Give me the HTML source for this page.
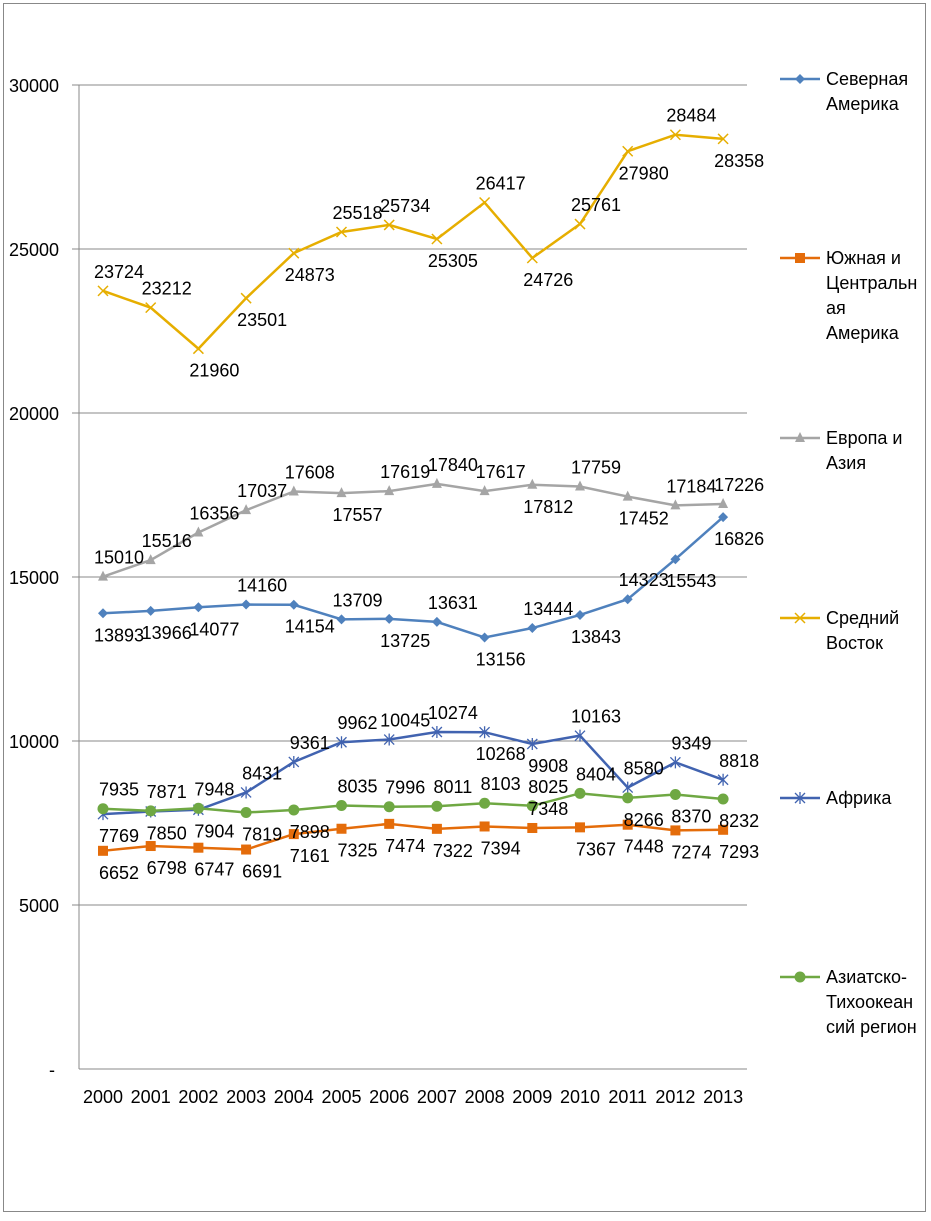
<!DOCTYPE html>
<html><head><meta charset="utf-8"><style>
body{margin:0;background:#fff}
svg text{font-family:"Liberation Sans",sans-serif;fill:#000}
</style></head><body>
<svg id="c" width="931" height="1216" xmlns="http://www.w3.org/2000/svg">
<rect x="3.5" y="3.5" width="922" height="1208" fill="#fff" stroke="#888"/>
<g id="grid"></g><g id="lines"></g><g id="labels"></g><g id="legend"></g>
</svg>
<script>
const years=["2000","2001","2002","2003","2004","2005","2006","2007","2008","2009","2010","2011","2012","2013"];
const yTicks=[0,5000,10000,15000,20000,25000,30000];
const yTickLabels=["-","5000","10000","15000","20000","25000","30000"];
const northAmerica=[13893,13966,14077,14160,14154,13709,13725,13631,13156,13444,13843,14323,15543,16826];
const southAmerica=[6652,6798,6747,6691,7161,7325,7474,7322,7394,7348,7367,7448,7274,7293];
const europeAsia=[15010,15516,16356,17037,17608,17557,17619,17840,17617,17812,17759,17452,17184,17226];
const middleEast=[23724,23212,21960,23501,24873,25518,25734,25305,26417,24726,25761,27980,28484,28358];
const africa=[7769,7850,7904,8431,9361,9962,10045,10274,10268,9908,10163,8580,9349,8818];
const asiaPacific=[7935,7871,7948,7819,7898,8035,7996,8011,8103,8025,8404,8266,8370,8232];
const seriesNames=["Северная Америка","Южная и Центральная Америка","Европа и Азия","Средний Восток","Африка","Азиатско-Тихоокеанский регион"];
const NS="http://www.w3.org/2000/svg";
const X=i=>103+i*47.7, Y=v=>1069-v*164/5000;
function mk(t,a,p){const e=document.createElementNS(NS,t);for(const k in a)e.setAttribute(k,a[k]);p.appendChild(e);return e;}
const grid=document.getElementById('grid');
yTicks.forEach((v,i)=>{
 if(v>0){const l=mk('line',{x1:72,x2:747,y1:Y(v),y2:Y(v),stroke:'#888','stroke-width':1},grid);
 
 }
 const t=mk('text',{x:v>0?59:55,y:Y(v)+7,'font-size':18,'text-anchor':'end'},grid);t.textContent=yTickLabels[i];
 
 
});
const ax=mk('line',{x1:79,x2:79,y1:85,y2:1069,stroke:'#888'},grid);


const xa=mk('line',{x1:79,x2:747,y1:1069,y2:1069,stroke:'#888'},grid);


years.forEach((y,i)=>{const t=mk('text',{x:X(i),y:1103,'font-size':18,'text-anchor':'middle'},grid);t.textContent=y;
 
 });
const A='a',B='b',R='r';
const series=[
 {d:northAmerica,c:'#4F81BD',m:'diamond',pl:[B,B,B,A,B,A,B,A,B,A,B,A,B,B]},
 {d:southAmerica,c:'#E46C0A',m:'square',pl:[B,B,B,B,B,B,B,B,B,A,B,B,B,B]},
 {d:europeAsia,c:'#A5A5A5',m:'triangle',pl:[A,A,A,A,A,B,A,A,A,B,A,B,A,A]},
 {d:middleEast,c:'#E6AE00',m:'x',pl:[A,A,B,B,B,A,A,B,A,B,A,B,A,B]},
 {d:africa,c:'#4163B0',m:'star',pl:[B,B,B,A,A,A,A,A,B,B,A,A,A,A]},
 {d:asiaPacific,c:'#6FA843',m:'circle',pl:[A,A,A,B,B,A,A,A,A,A,A,B,B,B]}];
function marker(type,x,y,c,p){
 if(type==='diamond')return mk('path',{d:`M${x} ${y-5}L${x+5} ${y}L${x} ${y+5}L${x-5} ${y}Z`,fill:c},p);
 if(type==='square')return mk('rect',{x:x-5,y:y-5,width:10,height:10,fill:c},p);
 if(type==='triangle')return mk('path',{d:`M${x} ${y-6}L${x+5} ${y+4}L${x-5} ${y+4}Z`,fill:c},p);
 if(type==='circle')return mk('circle',{cx:x,cy:y,r:5.5,fill:c},p);
 if(type==='x')return mk('path',{d:`M${x-5} ${y-5}L${x+5} ${y+5}M${x-5} ${y+5}L${x+5} ${y-5}`,stroke:c,'stroke-width':1.5},p);
 return mk('path',{d:`M${x-5} ${y-5}L${x+5} ${y+5}M${x-5} ${y+5}L${x+5} ${y-5}M${x} ${y-6}L${x} ${y+6}`,stroke:c,'stroke-width':1.3},p);
}
const lg=document.getElementById('lines'),lb=document.getElementById('labels');
series.forEach((s,k)=>{
 const g=mk('g',{},lg);
 
 
 const pts=s.d.map((v,i)=>X(i)+','+Y(v)).join(' ');
 const pl=mk('polyline',{points:pts,fill:'none',stroke:s.c,'stroke-width':2.5},g);
 
 
 s.d.forEach((v,i)=>{
  const m=marker(s.m,X(i),Y(v),s.c,g);
  
  
  const p=s.pl[i];
  const t=mk('text',{x:X(i)+16,y:Y(v)+(p===A?-13:28),'font-size':18,'text-anchor':'middle'},lb);
  t.textContent=v;
  
  
 });
});
const leg=document.getElementById('legend');
const legY=[79,258,438,618,798,977];
const legLines=[["Северная","Америка"],["Южная и","Центральн","ая","Америка"],["Европа и","Азия"],["Средний","Восток"],["Африка"],["Азиатско-","Тихоокеан","сий регион"]];
series.forEach((s,k)=>{
 const g=mk('g',{},leg);
 
 
 const y=legY[k];
 mk('line',{x1:780,x2:820,y1:y,y2:y,stroke:s.c,'stroke-width':2.5},g);
 marker(s.m,800,y,s.c,g);
 legLines[k].forEach((ln,j)=>{const t=mk('text',{x:826,y:y+6+j*25,'font-size':18},g);t.textContent=ln;});
});
</script>
</body></html>
